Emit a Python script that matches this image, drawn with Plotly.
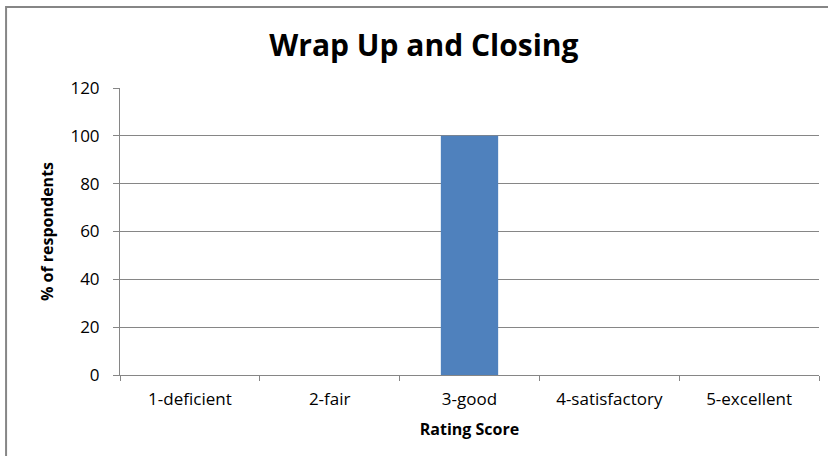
import plotly.graph_objects as go

# rating categories and share of respondents
categories = ["1-deficient", "2-fair", "3-good", "4-satisfactory", "5-excellent"]
percent = [0, 0, 100, 0, 0]
y_ticks = [0, 20, 40, 60, 80, 100, 120]

grey = "#868686"
font = "'Open Sans', sans-serif"

fig = go.Figure(go.Bar(x=categories, y=percent, marker_color="#4F81BD",
                       marker_line_width=0))

fig.update_layout(
    width=828, height=456,
    margin=dict(l=120, r=9, t=88, b=81, autoexpand=False),
    paper_bgcolor="white", plot_bgcolor="white",
    bargap=0.59,
    showlegend=False,
    font=dict(family=font, size=17, color="#000000"),
    title=dict(text="<b>Wrap Up and Closing</b>", xref="container", x=0.512,
               xanchor="center", yref="container", y=1 - 45 / 456,
               yanchor="middle", font=dict(size=30, family=font)),
)

fig.update_xaxes(
    title=dict(text="<b>Rating Score</b>", font=dict(size=16), standoff=14),
    showline=True, linecolor=grey, linewidth=1,
    ticks="outside", tickson="boundaries", ticklen=5, tickcolor=grey,
    ticklabelstandoff=9,
    tickfont=dict(size=17), showgrid=False, automargin=False,
)
fig.update_yaxes(
    title=dict(text="<b>% of respondents</b>", font=dict(size=16), standoff=12),
    range=[0, 120], tickvals=y_ticks,
    showline=True, linecolor=grey, linewidth=1,
    ticks="outside", ticklen=6, tickcolor=grey, ticklabelstandoff=10,
    showgrid=True, gridcolor=grey, gridwidth=1,
    zeroline=False, tickfont=dict(size=17), automargin=False,
)

# chart-area border (Excel style)
fig.add_shape(type="rect", xref="paper", yref="paper",
              x0=-0.163, x1=1.2, y0=-0.5, y1=1.282,
              line=dict(color=grey, width=2), fillcolor="rgba(0,0,0,0)")

fig.write_html("out.html", config={"displayModeBar": False},
               post_script="document.body.style.margin='0';")
